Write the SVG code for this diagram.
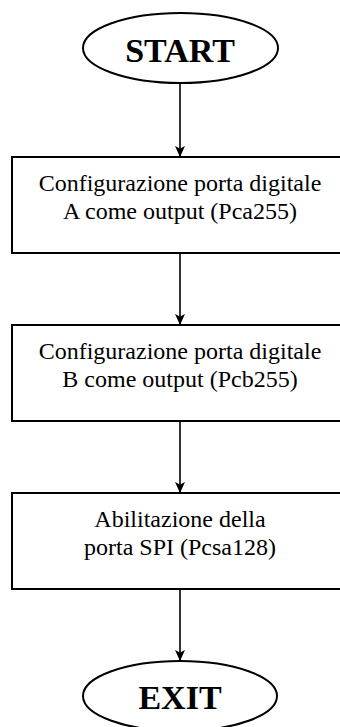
<svg xmlns="http://www.w3.org/2000/svg" width="340" height="727" viewBox="0 0 340 727">
  <style>
    .shape { fill: #ffffff; stroke: #000000; stroke-width: 2; }
    .term { font-family: "Liberation Serif", "Times New Roman", serif; font-weight: bold; font-size: 34px; fill: #000000; text-anchor: middle; }
    .step-text { font-family: "Liberation Serif", "Times New Roman", serif; font-size: 24px; fill: #000000; text-anchor: middle; }
    .flow { stroke: #000000; stroke-width: 1.6; fill: none; marker-end: url(#arrow); }
  </style>
  <defs>
    <marker id="arrow" markerWidth="11" markerHeight="10" refX="11" refY="5" orient="auto" markerUnits="userSpaceOnUse">
      <path d="M0,0 L11,5 L0,10 L2.5,5 Z" fill="#000000"/>
    </marker>
  </defs>

  <!-- connectors -->
  <g id="connectors">
    <line class="flow" x1="180" y1="83" x2="180" y2="157"/>
    <line class="flow" x1="180" y1="253" x2="180" y2="325"/>
    <line class="flow" x1="180" y1="421" x2="180" y2="493"/>
    <line class="flow" x1="180" y1="589" x2="180" y2="661"/>
  </g>

  <g id="start">
    <ellipse class="shape" cx="180.5" cy="48" rx="97.5" ry="35"/>
    <text class="term" x="180" y="62">START</text>
  </g>

  <g id="config-a">
    <rect class="shape" x="12" y="157" width="336" height="96"/>
    <text class="step-text" x="180" y="191">Configurazione porta digitale</text>
    <text class="step-text" x="180" y="219">A come output (Pca255)</text>
  </g>

  <g id="config-b">
    <rect class="shape" x="12" y="325" width="336" height="96"/>
    <text class="step-text" x="180" y="359">Configurazione porta digitale</text>
    <text class="step-text" x="180" y="387">B come output (Pcb255)</text>
  </g>

  <g id="spi">
    <rect class="shape" x="12" y="493" width="336" height="96"/>
    <text class="step-text" x="180" y="527">Abilitazione della</text>
    <text class="step-text" x="180" y="555">porta SPI (Pcsa128)</text>
  </g>

  <g id="exit">
    <ellipse class="shape" cx="180" cy="696" rx="97" ry="35"/>
    <text class="term" x="180" y="709">EXIT</text>
  </g>
</svg>
